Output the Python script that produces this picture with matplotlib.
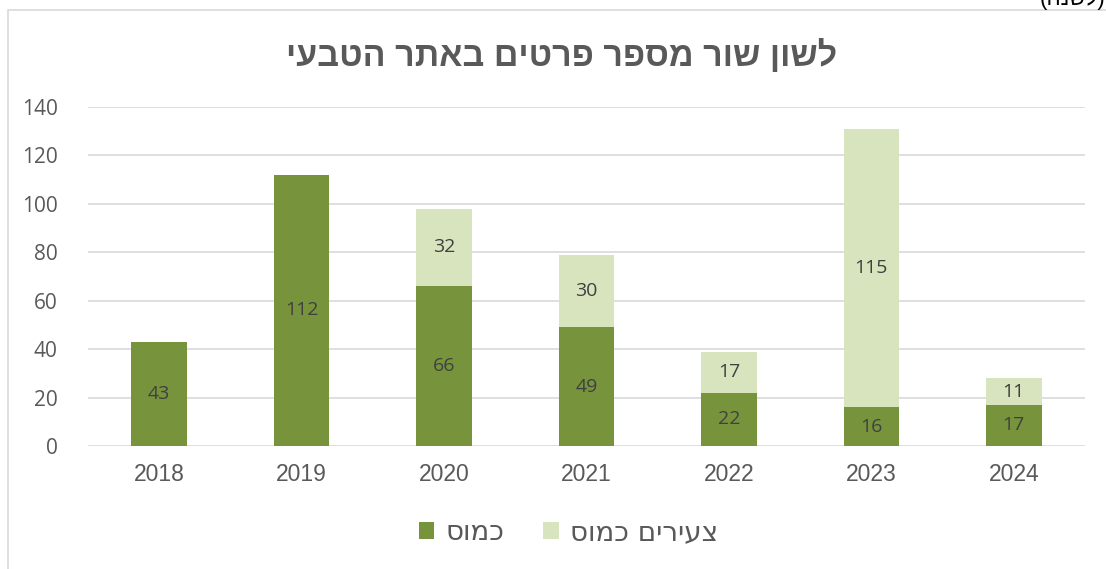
import matplotlib
matplotlib.use("Agg")
from matplotlib import pyplot as plt
from matplotlib.patches import Rectangle
import numpy as np

BODY = ['Open Sans', 'DejaVu Sans']
ARIAL = ['Liberation Sans', 'DejaVu Sans']
plt.rcParams['font.family'] = BODY

years = ["2018", "2019", "2020", "2021", "2022", "2023", "2024"]
adults = [43, 112, 66, 49, 22, 16, 17]
young = [0, 0, 32, 30, 17, 115, 11]

title = "לשון שור מספר פרטים באתר הטבעי"
label_adults = "כמוס"
label_young = "צעירים כמוס"
corner_note = "לשנה"

DARK = "#77933C"
LIGHT = "#D7E4BD"
TEXT = "#595959"
LABEL = "#404040"
GRID = "#D9D9D9"


def rtl(text: str) -> str:
    # matplotlib has no bidi, so flip Hebrew for display
    return text[::-1]


fig = plt.figure(figsize=(11.06, 5.69), dpi=100)
fig.patches.append(Rectangle((8 / 1106, -0.1), 1.2, 1 - 10 / 569 + 0.1, transform=fig.transFigure,
                             fill=False, edgecolor="#D9D9D9", linewidth=1.2))
fig.text(1040 / 1106, 1 - 5 / 569, "(" + rtl(corner_note) + ")", fontsize=16, color="black",
         ha="left", va="baseline", family=ARIAL)

ax = fig.add_axes([88 / 1106, 123 / 569, (1085 - 88) / 1106, (446 - 107) / 569])
x = np.arange(len(years))
w = 0.39
b1 = ax.bar(x, adults, w, color=DARK, label=rtl(label_adults), zorder=3)
b2 = ax.bar(x, young, w, bottom=adults, color=LIGHT, label=rtl(label_young), zorder=3)

for i in range(len(years)):
    ax.text(x[i], adults[i] / 2, str(adults[i]), ha="center", va="center", fontsize=14, color=LABEL, zorder=4)
    if young[i] > 0:
        ax.text(x[i], adults[i] + young[i] / 2, str(young[i]), ha="center", va="center",
                fontsize=14, color=LABEL, zorder=4)

ax.set_xlim(-0.5, 6.5)
ax.set_ylim(0, 140)
ax.set_yticks(range(0, 141, 20))
ax.set_xticks(x)
ax.set_xticklabels(years, family=ARIAL, fontsize=16.5)
ax.yaxis.grid(True, color=GRID, linewidth=1.2, zorder=0)
ax.set_axisbelow(True)
for sp in ax.spines.values():
    sp.set_visible(False)
ax.tick_params(axis="both", length=0, labelcolor=TEXT)
ax.tick_params(axis="y", pad=22, labelsize=15)
ax.tick_params(axis="x", pad=12)

fig.text(0.508, 1 - 56 / 569, rtl(title), ha="center", va="center", fontsize=24.5, fontweight="bold",
         color=TEXT, family=ARIAL)

fig.legend(handles=[b1, b2], loc="center", bbox_to_anchor=(0.514, 1 - 532 / 569), ncol=2, frameon=False,
           prop={'family': ['DejaVu Sans'], 'size': 20}, labelcolor=TEXT, handlelength=0.55,
           handleheight=0.55, columnspacing=1.4, handletextpad=0.4)

fig.savefig("out.png", dpi=100)
